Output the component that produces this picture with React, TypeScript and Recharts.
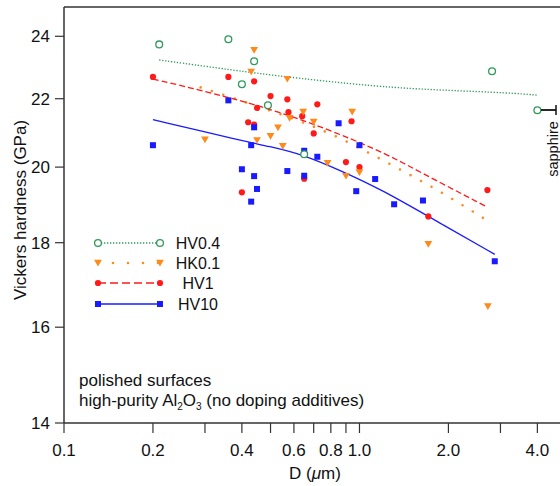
import { ComposedChart, Scatter, Line, XAxis, YAxis, ReferenceLine } from 'recharts';

const FONT = '"Liberation Sans", Arial, Helvetica, sans-serif';

const GREEN = '#2f9a5c';
const ORANGE = '#ff8a1c';
const RED = '#ff1a1a';
const BLUE = '#1a1aff';
const AXIS = '#333';

// grain size D (um) vs hardness (GPa)
const hv04Points: [number, number][] = [
  [0.21, 23.73], [0.36, 23.9], [0.4, 22.45], [0.44, 23.18],
  [0.49, 21.8], [0.65, 20.36], [2.81, 22.86], [4.0, 21.65],
];

const hk01Points: [number, number][] = [
  [0.3, 20.78], [0.43, 22.84], [0.44, 23.54], [0.45, 20.76], [0.5, 20.88],
  [0.53, 21.13], [0.55, 20.59], [0.57, 22.61], [0.58, 21.41], [0.645, 21.6],
  [0.7, 21.3], [0.78, 20.11], [0.9, 19.75], [0.945, 21.6], [1.0, 19.85],
  [1.71, 17.96], [2.72, 16.47],
];

const hv1Points: [number, number][] = [
  [0.2, 22.68], [0.36, 22.68], [0.4, 19.31], [0.42, 21.29], [0.44, 22.54],
  [0.44, 21.22], [0.45, 21.72], [0.5, 22.08], [0.57, 21.98], [0.575, 21.59],
  [0.64, 21.47], [0.65, 19.68], [0.7, 20.96], [0.72, 21.83], [0.9, 20.14],
  [0.94, 21.32], [1.0, 20.0], [1.71, 18.67], [2.71, 19.37],
];

const hv10Points: [number, number][] = [
  [0.2, 20.62], [0.36, 21.95], [0.4, 19.94], [0.43, 20.62], [0.43, 19.06],
  [0.44, 21.14], [0.44, 19.75], [0.45, 19.4], [0.57, 19.89], [0.65, 20.46],
  [0.65, 19.76], [0.72, 20.29], [0.85, 21.26], [0.975, 19.34], [1.0, 20.62],
  [1.13, 19.67], [1.31, 18.99], [1.64, 19.09], [2.87, 17.54],
];

// fitted curves, points
const hv04Fit: [number, number][] = [
  [0.21, 23.22], [0.3, 23.02], [0.5, 22.73], [1.17, 22.36], [1.95, 22.26], [3.23, 22.18], [4.0, 22.11],
];
const hk01Fit: [number, number][] = [
  [0.29, 22.35], [0.35, 22.11], [0.61, 21.38], [0.735, 21.08], [0.866, 20.82],
  [1.35, 19.97], [1.9, 19.31], [2.44, 18.78], [2.66, 18.6],
];
const hv1Fit: [number, number][] = [
  [0.2, 22.61], [0.247, 22.42], [0.538, 21.65], [1.173, 20.48], [1.56, 19.91], [2.7, 18.92],
];
const hv10Fit: [number, number][] = [
  [0.2, 21.37], [0.394, 20.76], [0.494, 20.59], [0.65, 20.34], [0.859, 19.91],
  [1.173, 19.41], [1.973, 18.4], [2.87, 17.71],
];

const xTicks = [0.1, 0.2, 0.3, 0.4, 0.5, 0.6, 0.7, 0.8, 0.9, 1, 2, 3, 4];
const xLabeled = [0.1, 0.2, 0.4, 0.6, 0.8, 1, 2, 4];
const yTicks = [14, 16, 18, 20, 22, 24];

const toXY = (pts: [number, number][]) => pts.map(([x, y]) => ({ x, y }));

const OpenCircle = (p: any) => (
  <circle cx={p.cx} cy={p.cy} r={3.4} fill="#fff" stroke={GREEN} strokeWidth={1.3} />
);
const TriDown = (p: any) => (
  <path d={`M${p.cx - 3.9},${p.cy - 3.2}L${p.cx + 3.9},${p.cy - 3.2}L${p.cx},${p.cy + 3.5}Z`} fill={ORANGE} />
);
const RedDot = (p: any) => <circle cx={p.cx} cy={p.cy} r={3.1} fill={RED} />;
const BlueSq = (p: any) => <rect x={p.cx - 3} y={p.cy - 3} width={6} height={6} fill={BLUE} />;

const legendRows = [
  { name: 'HV0.4', y: 243, color: GREEN, dash: '1.3 1.7', width: 1.3, marker: 'circle' },
  { name: 'HK0.1', y: 263, color: ORANGE, dash: '0 15', width: 2.6, marker: 'tri' },
  { name: 'HV1', y: 283, color: RED, dash: '8 4', width: 1.4, marker: 'dot' },
  { name: 'HV10', y: 304, color: BLUE, dash: undefined, width: 1.3, marker: 'sq' },
];

function marker(kind: string, cx: number, cy: number) {
  if (kind === 'circle') return <OpenCircle cx={cx} cy={cy} />;
  if (kind === 'tri') return <TriDown cx={cx} cy={cy} />;
  if (kind === 'dot') return <RedDot cx={cx} cy={cy} />;
  return <BlueSq cx={cx} cy={cy} />;
}

export default function App() {
  return (
    <div
      style={{
        position: 'absolute', left: 0, top: 0, width: 560, height: 486,
        overflow: 'hidden', background: '#fff', fontFamily: FONT,
      }}
    >
      <ComposedChart width={570} height={486} margin={{ top: 7, right: 4, bottom: 0, left: 0 }}>
        <XAxis
          type="number"
          dataKey="x"
          scale="log"
          domain={[0.1, 5]}
          allowDataOverflow
          ticks={xTicks}
          interval={0}
          tickFormatter={(v: number) => (xLabeled.includes(v) ? v.toFixed(1) : '')}
          height={63}
          tickSize={10}
          tickMargin={11}
          axisLine={{ stroke: AXIS, strokeWidth: 1.5 }}
          tickLine={{ stroke: AXIS, strokeWidth: 1.2 }}
          tick={{ fontSize: 17, fill: '#111', fontFamily: FONT }}
        />
        <YAxis
          type="number"
          dataKey="y"
          scale="log"
          domain={[14, 25]}
          allowDataOverflow
          ticks={yTicks}
          interval={0}
          width={64}
          tickSize={9}
          tickMargin={5}
          axisLine={{ stroke: AXIS, strokeWidth: 1.5 }}
          tickLine={{ stroke: AXIS, strokeWidth: 1.2 }}
          tick={{ fontSize: 17, fill: '#111', fontFamily: FONT }}
        />
        <ReferenceLine y={25} stroke={AXIS} strokeWidth={1.5} />

        <Line data={toXY(hv04Fit)} dataKey="y" type="basis" stroke={GREEN} strokeWidth={1.3}
          strokeDasharray="1.3 1.7" dot={false} activeDot={false} isAnimationActive={false} />
        <Line data={toXY(hk01Fit)} dataKey="y" type="basis" stroke={ORANGE} strokeWidth={2.6}
          strokeLinecap="round" strokeDasharray="0 12" dot={false} activeDot={false} isAnimationActive={false} />
        <Line data={toXY(hv1Fit)} dataKey="y" type="basis" stroke={RED} strokeWidth={1.3}
          strokeDasharray="6 3" dot={false} activeDot={false} isAnimationActive={false} />
        <Line data={toXY(hv10Fit)} dataKey="y" type="basis" stroke={BLUE} strokeWidth={1.3}
          dot={false} activeDot={false} isAnimationActive={false} />

        <Scatter data={toXY(hv1Points)} dataKey="y" shape={RedDot} isAnimationActive={false} />
        <Scatter data={toXY(hk01Points)} dataKey="y" shape={TriDown} isAnimationActive={false} />
        <Scatter data={toXY(hv10Points)} dataKey="y" shape={BlueSq} isAnimationActive={false} />
        <Scatter data={toXY(hv04Points)} dataKey="y" shape={OpenCircle} isAnimationActive={false} />
      </ComposedChart>

      <svg
        width={560}
        height={486}
        style={{ position: 'absolute', left: 0, top: 0, pointerEvents: 'none' }}
        fontFamily={FONT}
      >
        <text transform="translate(20,210) rotate(-90)" textAnchor="middle" dominantBaseline="central" fontSize={17} fill="#111">
          Vickers hardness (GPa)
        </text>
        <text x={315} y={479} textAnchor="middle" fontSize={17} fill="#111">
          D (<tspan fontStyle="italic">μ</tspan>m)
        </text>

        {legendRows.map((r) => (
          <g key={r.name}>
            <line x1={98} x2={160} y1={r.y} y2={r.y} stroke={r.color} strokeWidth={r.width}
              strokeDasharray={r.dash} strokeLinecap={r.marker === 'tri' ? 'round' : 'butt'} />
            {marker(r.marker, 98, r.y)}
            {marker(r.marker, 160, r.y)}
            <text x={198} y={r.y} textAnchor="middle" dominantBaseline="central" fontSize={16} fill="#111">
              {r.name}
            </text>
          </g>
        ))}

        <text x={79} y={386} fontSize={17} fill="#111">polished surfaces</text>
        <text x={79} y={406} fontSize={17} fill="#111">
          high-purity Al<tspan fontSize={10} dy={4}>2</tspan><tspan dy={-4}>O</tspan>
          <tspan fontSize={10} dy={4}>3</tspan><tspan dy={-4}> (no doping additives)</tspan>
        </text>

        <line x1={541} x2={556} y1={110} y2={110} stroke="#111" strokeWidth={1.8} />
        <line x1={556} x2={556} y1={105} y2={115} stroke="#111" strokeWidth={1.5} />
        <text transform="translate(553,149) rotate(-90)" textAnchor="middle" dominantBaseline="central" fontSize={14.5} fill="#111">
          sapphire
        </text>
      </svg>
    </div>
  );
}
